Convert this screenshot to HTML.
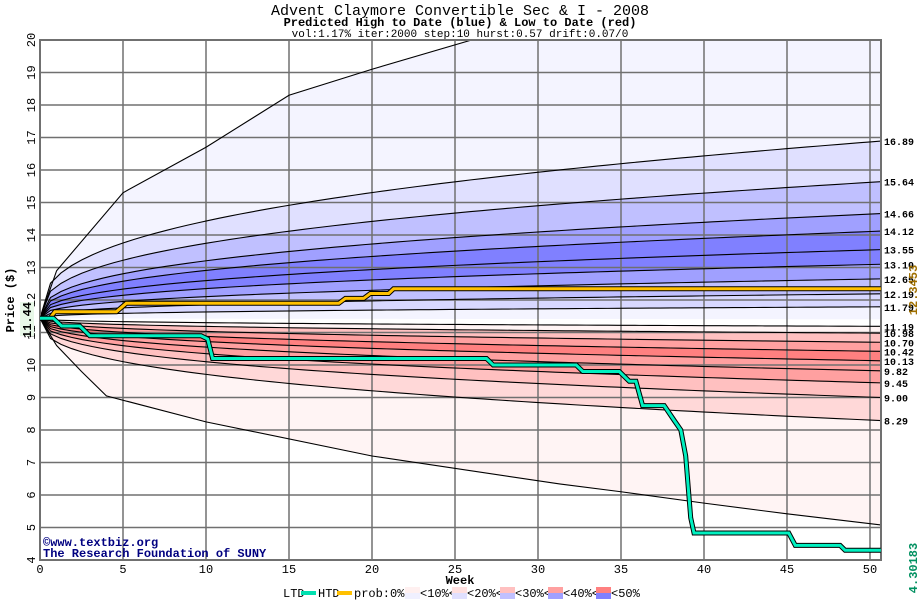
<!DOCTYPE html>
<html><head><meta charset="utf-8">
<style>
body{margin:0;background:#fff;}
svg text{font-family:"Liberation Mono","DejaVu Sans Mono",monospace;}
</style></head>
<body>
<svg id="s" width="920" height="600" xmlns="http://www.w3.org/2000/svg">
<rect width="920" height="600" fill="#fff"/>
<text x="460" y="15" text-anchor="middle" font-size="15" fill="#000">Advent Claymore Convertible Sec &amp; I - 2008</text>
<text x="460" y="26" text-anchor="middle" font-size="12" font-weight="bold" fill="#000">Predicted High to Date (blue) &amp;  Low to Date (red)</text>
<text x="460" y="37" text-anchor="middle" font-size="11" fill="#000">vol:1.17% iter:2000 step:10 hurst:0.57 drift:0.07/0</text>
<g id="plot"></g>
</svg>
<script>
var NS="http://www.w3.org/2000/svg",S=document.getElementById('plot');
var X0=40,PX=16.6,TEND=50.65,Y0=560,PY=32.5;
function X(w){return X0+w*PX;}function Y(p){return Y0-(p-4)*PY;}
function el(t,a,txt){var e=document.createElementNS(NS,t);for(var k in a)e.setAttribute(k,a[k]);if(txt!=null)e.textContent=txt;S.appendChild(e);return e;}
var N=80;
function curve(end,ex){var pts=[];for(var i=0;i<=N;i++){var t=TEND*i/N;var f=Math.pow(t/TEND,ex);var p=11.44+(end-11.44)*f;if(p>20.05)p=20.05;pts.push([X(t),Y(p)]);}return pts;}
function pw(arr){return arr.map(function(q){return [X(q[0]),Y(Math.min(q[1],20.05))];});}
var ends=[0,16.89,15.64,14.66,14.12,13.55,13.10,12.65,12.19,11.79,11.40,11.19,10.98,10.70,10.42,10.13,9.82,9.45,9.00,8.29,0];
var fills=['#f4f4ff','#e0e0ff','#c0c0ff','#a0a0ff','#8080ff','#8080ff','#a0a0ff','#c0c0ff','#d8d8ff','#f4f4ff','#ffffff','#fff4f4','#ffc0c0','#ffa0a0','#ff8080','#ffa0a0','#ffa0a0','#ffc0c0','#ffd8d8','#fff4f4'];
var cs=ends.map(function(e,i){return curve(e,0.37);});
cs[0]=pw([[0,11.44],[1,12.9],[5,15.3],[10,16.7],[15,18.3],[20,19.1],[26,20.0],[27,20.3],[50.65,23]]);
cs[20]=pw([[0,11.44],[1,10.6],[2.5,9.8],[4,9.05],[10,8.25],[20,7.2],[31.3,6.34],[35,6.1],[40,5.75],[45,5.42],[50.65,5.08]]);
el('clipPath',{id:'c'});
S.lastChild.appendChild(function(){var r=document.createElementNS(NS,'rect');r.setAttribute('x',X0);r.setAttribute('y',40);r.setAttribute('width',841);r.setAttribute('height',520);return r;}());
for(var i=0;i<fills.length;i++){var a=cs[i],b=cs[i+1].slice().reverse();var d='M'+a.concat(b).map(function(p){return p[0].toFixed(1)+','+p[1].toFixed(1)}).join('L')+'Z';el('path',{d:d,fill:fills[i],stroke:fills[i],'stroke-width':0.5,'clip-path':'url(#c)'});}
for(var w=5;w<=50;w+=5)el('line',{x1:X(w),y1:40,x2:X(w),y2:560,stroke:'#707070','stroke-width':1.5});
for(var p=5;p<=19;p++)el('line',{x1:X0,y1:Y(p),x2:881,y2:Y(p),stroke:'#707070','stroke-width':1.5});
cs.forEach(function(c,i){if(i==10)return;el('polyline',{points:c.map(function(p){return p.join(',')}).join(' '),fill:'none',stroke:'#000','stroke-width':1.1,'clip-path':'url(#c)'});});
el('rect',{x:X0,y:40,width:841,height:520,fill:'none',stroke:'#707070','stroke-width':2});
var labs=[16.89,15.64,14.66,14.12,13.55,13.10,12.65,12.19,11.79,11.19,10.98,10.70,10.42,10.13,9.82,9.45,9.00,8.29];
labs.forEach(function(v){el('text',{x:884,y:Y(v)+4,'font-size':10,'font-weight':'bold'},v.toFixed(2));});
function path(pts,col){var s=pts.map(function(p){return X(p[0]).toFixed(1)+','+Y(p[1]).toFixed(1)}).join(' ');el('polyline',{points:s,fill:'none',stroke:'#000','stroke-width':5});el('polyline',{points:s,fill:'none',stroke:col,'stroke-width':3});}
path([[0,11.44],[0.6,11.44],[0.9,11.64],[4.6,11.64],[5.2,11.9],[18,11.9],[18.4,12.05],[19.5,12.05],[19.9,12.2],[21,12.2],[21.3,12.3453],[50.65,12.3453]],'#ffc000');
path([[0,11.44],[0.8,11.44],[1.3,11.2],[2.4,11.2],[3,10.9],[9.7,10.9],[10.1,10.8],[10.4,10.2],[26.9,10.2],[27.3,10.0],[32.3,10.0],[32.7,9.8],[34.9,9.8],[35.5,9.5],[35.9,9.5],[36.3,8.75],[37.6,8.75],[38.2,8.3],[38.6,8.0],[38.9,7.2],[39.2,5.3],[39.4,4.83],[45.1,4.83],[45.5,4.45],[48.2,4.45],[48.5,4.3],[50.65,4.3]],'#00f0c0');
for(var w=0;w<=50;w+=5)el('text',{x:X(w),y:573,'text-anchor':'middle','font-size':12},w);
for(var p=4;p<=20;p++){el('text',{x:0,y:0,'font-size':12,'text-anchor':'middle',transform:'translate(35,'+Y(p)+') rotate(-90)'},p);}
el('text',{x:0,y:0,'font-size':12,'font-weight':'bold','text-anchor':'middle',transform:'translate(14,300) rotate(-90)'},'Price ($)');
el('rect',{x:20,y:302,width:14,height:34,fill:'#e8f8e8'});
el('text',{x:0,y:0,'font-size':12,'font-weight':'bold','text-anchor':'middle',transform:'translate(31,320) rotate(-90)'},'11.44');
el('text',{x:0,y:0,'font-size':12,'font-weight':'bold','text-anchor':'middle',fill:'#a07000',transform:'translate(917,290) rotate(-90)'},'12.3453');
el('text',{x:0,y:0,'font-size':12,'font-weight':'bold','text-anchor':'middle',fill:'#009060',transform:'translate(917,568) rotate(-90)'},'4.30183');
el('text',{x:43,y:546,'font-size':12,'font-weight':'bold',fill:'#000080'},'\u00a9www.textbiz.org');
el('text',{x:43,y:557,'font-size':12,'font-weight':'bold',fill:'#000080'},'The Research Foundation of SUNY');
el('text',{x:460,y:584,'text-anchor':'middle','font-size':12,'font-weight':'bold'},'Week');
var ly=597;
el('text',{x:283,y:ly,'font-size':12},'LTD');el('rect',{x:301,y:591,width:15,height:4,fill:'#00e0b0'});
el('text',{x:318,y:ly,'font-size':12},'HTD');el('rect',{x:337,y:591,width:15,height:4,fill:'#ffc000'});
el('text',{x:354,y:ly,'font-size':12},'prob:0%<');
var sw=[['#fff0f0','#f0f0ff'],['#ffe0e0','#e0e0ff'],['#ffc0c0','#c0c0ff'],['#ffa0a0','#a0a0ff'],['#ff8080','#8080ff']];
var sx=[405,452,500,548,596],lb=['<10%<','<20%<','<30%<','<40%<','<50%'];
for(var i=0;i<5;i++){el('rect',{x:sx[i],y:587,width:15,height:6,fill:sw[i][0]});el('rect',{x:sx[i],y:593,width:15,height:6,fill:sw[i][1]});el('text',{x:sx[i]+15,y:ly,'font-size':12},lb[i]);}
</script>
</body></html>
